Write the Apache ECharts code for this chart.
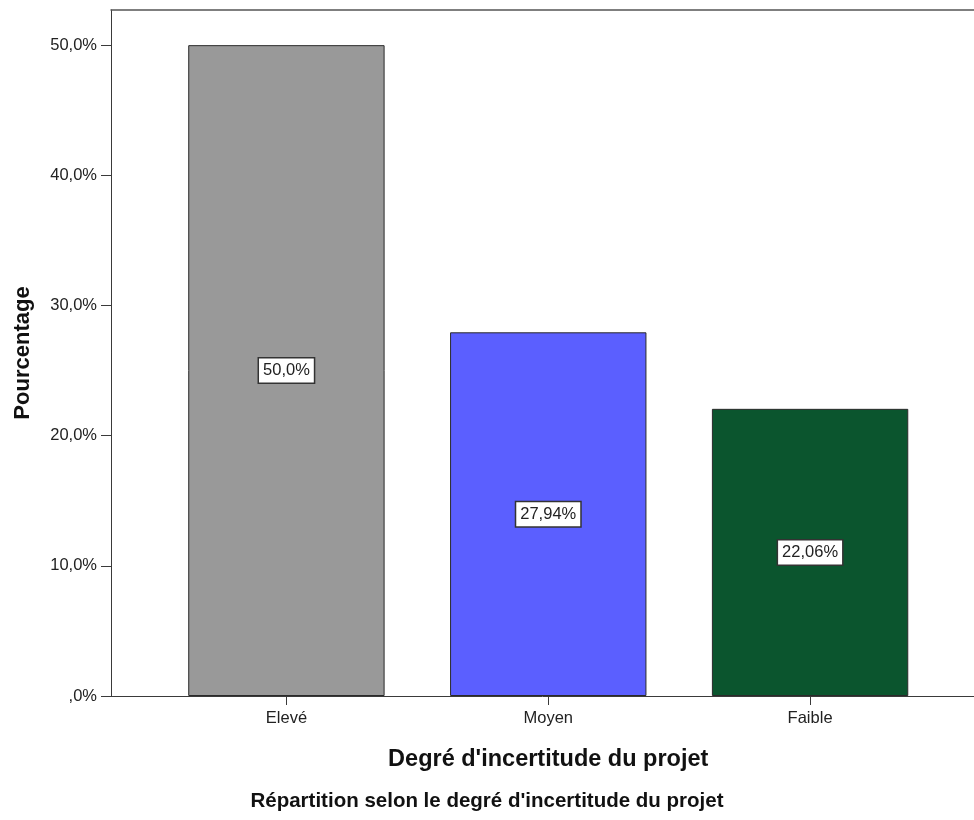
<!DOCTYPE html>
<html><head><meta charset="utf-8">
<script src="https://cdn.jsdelivr.net/npm/echarts@6/dist/echarts.min.js"></script>
<style>html,body{margin:0;padding:0;background:#fff}#c{width:974px;height:820px}</style>
</head><body><div id="c"></div>
<script>
const categories = ['Elevé', 'Moyen', 'Faible'];
const values = [50.0, 27.94, 22.06];
const valueLabels = ['50,0%', '27,94%', '22,06%'];
const barColors = ['#999999', '#5b5fff', '#0b552e'];
const yTicks = [0, 10, 20, 30, 40, 50];
const yTickLabels = [',0%', '10,0%', '20,0%', '30,0%', '40,0%', '50,0%'];
const yMax = 52.7;
const xTitle = "Degré d'incertitude du projet";
const yTitle = 'Pourcentage';
const caption = "Répartition selon le degré d'incertitude du projet";

const FONT = '"Liberation Sans", Arial, sans-serif';
const lineCol = '#3a3a3a';
const chart = echarts.init(document.getElementById('c'), null, {renderer: 'canvas'});
chart.setOption({
  animation: false,
  backgroundColor: '#ffffff',
  title: {
    text: caption, left: 'center', bottom: 3,
    textStyle: {fontFamily: FONT, fontWeight: 'bold', fontSize: 20.5, color: '#111'}
  },
  grid: [
    {left: 111, right: 0, top: 10, bottom: 124, containLabel: false},
    {left: 155.5, right: 33, top: 10, bottom: 124, containLabel: false}
  ],
  xAxis: [
    {gridIndex: 0, type: 'value', min: 0, max: 1, position: 'bottom',
     axisLine: {show: true, lineStyle: {color: lineCol, width: 1}}, axisTick: {show: false},
     axisLabel: {show: false}, splitLine: {show: false}},
    {gridIndex: 0, type: 'value', min: 0, max: 1, position: 'top',
     axisLine: {show: true, lineStyle: {color: '#555', width: 1.5}}, axisTick: {show: false},
     axisLabel: {show: false}, splitLine: {show: false}},
    {gridIndex: 1, type: 'category', data: categories, position: 'bottom',
     axisLine: {show: false}, axisTick: {show: true, alignWithLabel: true, length: 9, lineStyle: {color: lineCol}},
     axisLabel: {fontFamily: FONT, fontSize: 16.5, color: '#222', margin: 14},
     name: xTitle, nameLocation: 'middle', nameGap: 52,
     nameTextStyle: {fontFamily: FONT, fontWeight: 'bold', fontSize: 23.5, color: '#111'}}
  ],
  yAxis: [
    {gridIndex: 0, type: 'value', min: 0, max: yMax, interval: 10,
     axisLine: {show: true, lineStyle: {color: lineCol, width: 1}},
     axisTick: {show: true, length: 10, customValues: yTicks, lineStyle: {color: lineCol}},
     axisLabel: {fontFamily: FONT, fontSize: 16.5, color: '#222', margin: 14, customValues: yTicks,
       formatter: function (v) { const i = yTicks.indexOf(Math.round(v)); return i >= 0 ? yTickLabels[i] : ''; }},
     splitLine: {show: false},
     name: yTitle, nameLocation: 'middle', nameGap: 77, nameRotate: 90,
     nameTextStyle: {fontFamily: FONT, fontWeight: 'bold', fontSize: 22, color: '#111'}},
    {gridIndex: 1, type: 'value', min: 0, max: yMax, show: false}
  ],
  series: [{
    type: 'bar', xAxisIndex: 2, yAxisIndex: 1,
    barCategoryGap: '25%',
    data: values.map((v, i) => ({value: v, itemStyle: {color: barColors[i]}})),
    itemStyle: {borderColor: '#2a2a2a', borderWidth: 1},
    label: {
      show: true, position: 'inside',
      formatter: p => valueLabels[p.dataIndex],
      fontFamily: FONT, fontSize: 16.5, color: '#222',
      backgroundColor: '#ffffff', borderColor: '#333', borderWidth: 1.5,
      padding: [4, 4, 3, 4]
    }
  }]
});
</script></body></html>
